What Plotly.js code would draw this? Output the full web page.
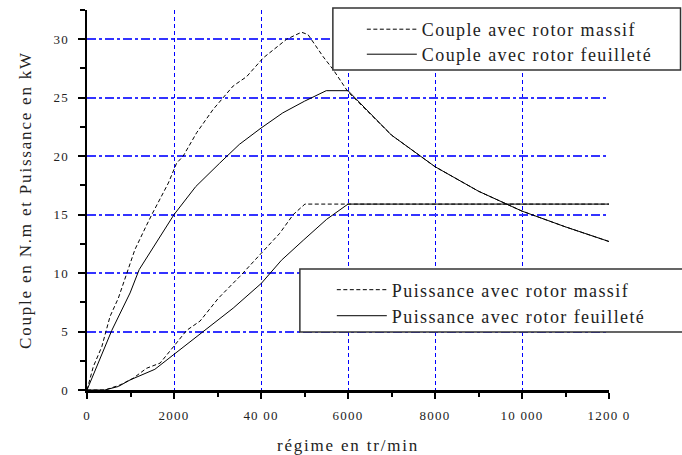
<!DOCTYPE html>
<html>
<head>
<meta charset="utf-8">
<script src="https://cdn.plot.ly/plotly-3.0.1.min.js"></script>
<style>
  html, body { margin: 0; padding: 0; background: #fff; }
  #chart { width: 682px; height: 455px; }
  #chart g.legend text, #chart g.legend2 text, #chart g.legend3 text, #chart g.legend4 text { letter-spacing: 1.4px !important; }
  #chart g.legend .scrollbox, #chart g.legend2 .scrollbox, #chart g.legend3 .scrollbox, #chart g.legend4 .scrollbox { clip-path: none !important; }
  #chart text.xtitle, #chart text.ytitle { letter-spacing: 1.8px !important; }
  #chart .xtick text, #chart .ytick text { letter-spacing: 1.2px !important; }
</style>
</head>
<body>
<div id="chart"></div>
<script>
// Couple avec rotor massif (N.m)
const rpmCoupleMassif = [0, 145, 340, 530, 720, 910, 1100, 1370, 1490, 1870, 2060, 2210, 2520, 2900, 3360, 3670, 4050, 4590, 4930, 5080, 5430, 5660, 6000, 7000, 8000, 9000, 10000, 11000, 12000];
const coupleMassif    = [0, 2.0, 3.7, 6.3, 7.85, 10.0, 12.0, 14.1, 15.0, 17.7, 19.4, 20.0, 22.0, 24.0, 26.0, 26.8, 28.4, 30.0, 30.6, 30.4, 28.5, 27.4, 25.5, 21.8, 19.1, 17.0, 15.3, 13.95, 12.7];

// Couple avec rotor feuilleté (N.m)
const rpmCoupleFeuillete = [0, 340, 570, 990, 1200, 2000, 2500, 3050, 3500, 4000, 4500, 5000, 5500, 6000, 7000, 8000, 9000, 10000, 11000, 12000];
const coupleFeuillete    = [0, 3.0, 5.1, 8.3, 10.3, 15.0, 17.4, 19.4, 21.0, 22.4, 23.7, 24.7, 25.6, 25.6, 21.8, 19.1, 17.0, 15.3, 13.95, 12.7];

// Puissance avec rotor massif (kW)
const rpmPuissanceMassif = [0, 410, 760, 1060, 1370, 1680, 2020, 2290, 2600, 3020, 3510, 4030, 4430, 4740, 5010, 6000, 12000];
const puissanceMassif    = [0, 0, 0.43, 1.0, 1.86, 2.3, 3.85, 5.1, 5.9, 7.85, 9.7, 11.8, 13.4, 15.0, 15.9, 15.9, 15.9];

// Puissance avec rotor feuilleté (kW)
const rpmPuissanceFeuillete = [0, 410, 720, 990, 1560, 2020, 2600, 3360, 4010, 4470, 4970, 5510, 6000, 12000];
const puissanceFeuillete    = [0, 0, 0.3, 0.86, 1.77, 3.1, 4.85, 7.0, 9.13, 11.1, 12.8, 14.6, 15.9, 15.9];

// Axis ticks
const xTickVals = [0, 2000, 4000, 6000, 8000, 10000, 12000];
const xTickText = ["0", "2000", "40 00", "6000", "8000", "10 000", "1200 0"];
const yTickVals = [0, 5, 10, 15, 20, 25, 30];

const serif = "Liberation Serif";
const dashed = "4px,2.5px";

const traces = [
  { x: rpmCoupleMassif, y: coupleMassif, name: "Couple avec rotor massif", mode: "lines",
    line: { color: "#000", width: 1, dash: dashed }, legend: "legend" },
  { x: rpmCoupleFeuillete, y: coupleFeuillete, name: "Couple avec rotor feuilleté", mode: "lines",
    line: { color: "#000", width: 1 }, legend: "legend2" },
  { x: rpmPuissanceMassif, y: puissanceMassif, name: "Puissance avec rotor massif", mode: "lines",
    line: { color: "#000", width: 1, dash: dashed }, legend: "legend3" },
  { x: rpmPuissanceFeuillete, y: puissanceFeuillete, name: "Puissance avec rotor feuilleté", mode: "lines",
    line: { color: "#000", width: 1 }, legend: "legend4" }
];

function leg(x, y) {
  return {
    x: x, y: y, xanchor: "left", yanchor: "middle",
    bgcolor: "rgba(0,0,0,0)", borderwidth: 0,
    font: { family: serif, size: 18, color: "#222" },
    itemwidth: 50
  };
}

const layout = {
  width: 682, height: 455,
  margin: { l: 87, r: 73, t: 10, b: 65 },
  paper_bgcolor: "#fff", plot_bgcolor: "#fff",
  font: { family: serif, color: "#222", size: 13 },
  showlegend: true,
  xaxis: {
    range: [0, 12000], tickvals: xTickVals, ticktext: xTickText,
    showline: true, linecolor: "#000", linewidth: 2.5,
    ticks: "outside", ticklen: 6, tickwidth: 2, tickcolor: "#000",
    ticklabelstandoff: 6,
    minor: { dtick: 1000, ticks: "outside", ticklen: 4, tickwidth: 2, tickcolor: "#000", showgrid: false },
    showgrid: true, gridcolor: "#0000ff", griddash: "4px,3px", gridwidth: 1,
    zeroline: false,
    tickfont: { family: serif, size: 13, color: "#222" },
    title: { text: "régime en tr/min", font: { family: serif, size: 17, color: "#222" }, standoff: 18 }
  },
  yaxis: {
    range: [0, 32.5], tickvals: yTickVals,
    showline: true, linecolor: "#000", linewidth: 2.5,
    ticks: "outside", ticklen: 7, tickwidth: 2, tickcolor: "#000",
    ticklabelstandoff: 6,
    minor: { dtick: 2.5, ticks: "outside", ticklen: 5, tickwidth: 2, tickcolor: "#000", showgrid: false },
    showgrid: true, gridcolor: "#3333ff", griddash: "dashdot", gridwidth: 2,
    zeroline: false,
    tickfont: { family: serif, size: 13, color: "#222" },
    title: { text: "Couple en N.m et Puissance en kW", font: { family: serif, size: 17, color: "#222" }, standoff: 20 }
  },
  legend: leg(0.5265, 0.9487),
  legend2: leg(0.5265, 0.8829),
  legend3: leg(0.469, 0.2632),
  legend4: leg(0.469, 0.1947),
  shapes: [
    { type: "rect", xref: "paper", yref: "paper", x0: 0.471, x1: 1.137, y0: 0.8421, y1: 1.0053,
      line: { color: "#333", width: 1.5 }, fillcolor: "#fff", layer: "above" },
    { type: "rect", xref: "paper", yref: "paper", x0: 0.4078, x1: 1.16, y0: 0.1526, y1: 0.3184,
      line: { color: "#333", width: 1.5 }, fillcolor: "#fff", layer: "above" }
  ]
};

Plotly.newPlot("chart", traces, layout, { displayModeBar: false, staticPlot: true });
</script>
</body>
</html>
